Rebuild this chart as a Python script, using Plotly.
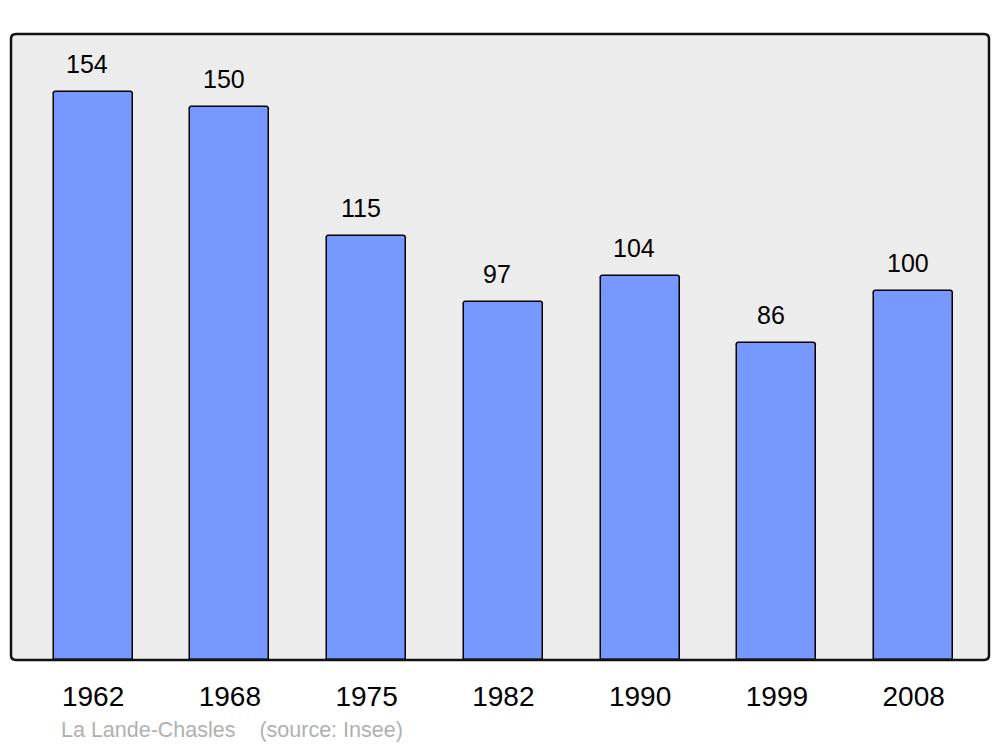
import plotly.graph_objects as go

years = ["1962", "1968", "1975", "1982", "1990", "1999", "2008"]
population = [154, 150, 115, 97, 104, 86, 100]
source_text = "La Lande-Chasles&nbsp;&nbsp;&nbsp;&nbsp;(source: Insee)"

W, H = 1000, 747
pw, ph = 978, 626
L, T = 11, 34
R, B = W - L - pw, H - T - ph

FONT = "Liberation Sans, Arial, sans-serif"

fig = go.Figure()
fig.add_trace(go.Bar(
    x=list(range(len(years))), y=population, width=0.578,
    marker=dict(color="#7799ff", line=dict(color="#000000", width=1.5), cornerradius=3),
    hoverinfo="skip",
))

annotations = []
for i, v in enumerate(population):
    annotations.append(dict(x=i, y=v, xref="x", yref="y", text=str(v), showarrow=False,
                            xanchor="center", yanchor="bottom", xshift=-6, yshift=12,
                            font=dict(family=FONT, size=25, color="#000")))
annotations.append(dict(x=(59 - L) / pw, y=(ph - (730 - T)) / ph, xref="paper", yref="paper",
                        text=source_text, showarrow=False, xanchor="left", yanchor="middle",
                        font=dict(family=FONT, size=21.5, color="#b0b0b0")))

rx, ry = 5 / pw, 5 / ph
path = (f"M {rx},0 L {1-rx},0 Q 1,0 1,{ry} L 1,{1-ry} Q 1,1 {1-rx},1 L {rx},1 Q 0,1 0,{1-ry} "
        f"L 0,{ry} Q 0,0 {rx},0 Z")

fig.update_layout(
    width=W, height=H,
    margin=dict(l=L, r=R, t=T, b=B, autoexpand=False),
    paper_bgcolor="#ffffff", plot_bgcolor="#ececec",
    showlegend=False,
    xaxis=dict(range=[-0.6, 6.551], tickmode="array", tickvals=list(range(len(years))),
               ticktext=years, showgrid=False, zeroline=False, showline=False,
               ticks="outside", ticklen=0, ticklabelstandoff=11,
               tickfont=dict(family=FONT, size=28, color="#000"),
               fixedrange=True),
    yaxis=dict(range=[0, 169.7], showgrid=False, zeroline=False, showline=False,
               showticklabels=False, fixedrange=True),
    annotations=annotations,
    shapes=[dict(type="path", xref="paper", yref="paper", path=path,
                 line=dict(color="#111111", width=2.5), fillcolor="rgba(0,0,0,0)", layer="above")],
    bargap=0,
)

fig.write_html("out.html", config={"displayModeBar": False},
               post_script="document.body.style.margin='0';document.body.style.overflow='hidden';")
